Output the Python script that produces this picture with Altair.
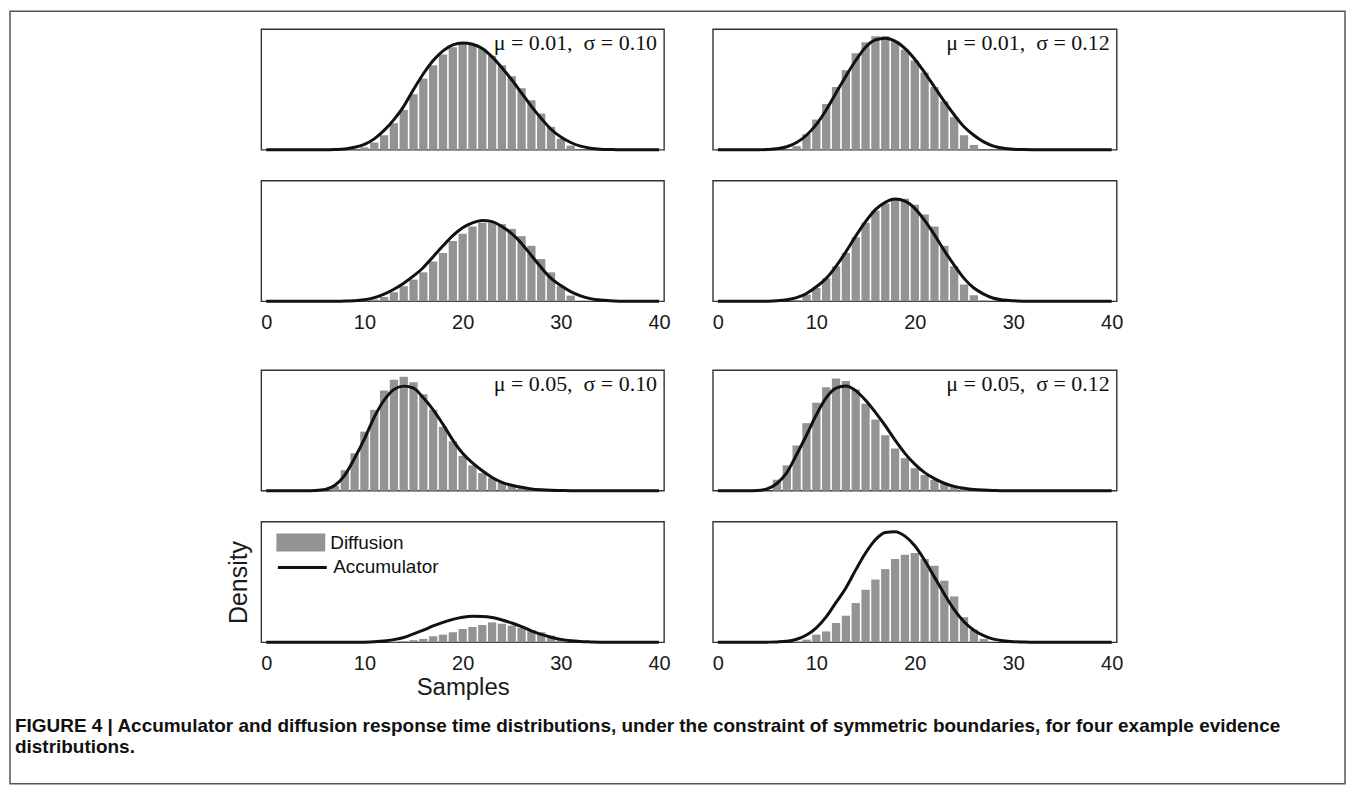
import altair as alt
import pandas as pd

# ---------------- data ----------------
SAMPLES = list(range(41))          # x positions of the accumulator curves
X_TICKS = [0, 10, 20, 30, 40]

LABELS = [
    "μ = 0.01,\u2002σ = 0.10",
    "μ = 0.01,\u2002σ = 0.12",
    "μ = 0.05,\u2002σ = 0.10",
    "μ = 0.05,\u2002σ = 0.12",
]

# accumulator (black curve) densities, relative units, samples 0..40
ACC_1 = [0, 0, 0, 0, 0, 0, 0, 0.002, 0.006, 0.02, 0.045, 0.09, 0.16, 0.25, 0.36, 0.50, 0.63, 0.74, 0.82, 0.87,
         0.885, 0.875, 0.84, 0.77, 0.68, 0.58, 0.47, 0.36, 0.26, 0.17, 0.105, 0.06, 0.03, 0.013, 0.005, 0.002,
         0, 0, 0, 0, 0]
ACC_2 = [0, 0, 0, 0, 0, 0.002, 0.008, 0.025, 0.06, 0.12, 0.21, 0.33, 0.47, 0.61, 0.74, 0.85, 0.91, 0.925, 0.90,
         0.84, 0.75, 0.64, 0.52, 0.40, 0.29, 0.19, 0.12, 0.065, 0.03, 0.012, 0.004, 0.001, 0, 0, 0, 0, 0, 0, 0,
         0, 0]
ACC_3 = [0, 0, 0, 0, 0, 0, 0, 0, 0.002, 0.004, 0.012, 0.03, 0.06, 0.10, 0.15, 0.21, 0.28, 0.37, 0.46, 0.545,
         0.61, 0.65, 0.67, 0.66, 0.62, 0.56, 0.48, 0.38, 0.28, 0.19, 0.13, 0.08, 0.045, 0.022, 0.01, 0.004, 0.001,
         0, 0, 0, 0]
ACC_4 = [0, 0, 0, 0, 0, 0.001, 0.004, 0.012, 0.03, 0.065, 0.12, 0.19, 0.29, 0.41, 0.54, 0.66, 0.76, 0.82, 0.847,
         0.83, 0.77, 0.67, 0.55, 0.42, 0.30, 0.19, 0.11, 0.06, 0.025, 0.01, 0.004, 0.001, 0, 0, 0, 0, 0, 0, 0,
         0, 0]
ACC_5 = [0, 0, 0, 0, 0, 0.002, 0.01, 0.045, 0.13, 0.27, 0.43, 0.61, 0.75, 0.84, 0.867, 0.85, 0.77, 0.67, 0.55,
         0.42, 0.31, 0.23, 0.165, 0.11, 0.07, 0.045, 0.028, 0.015, 0.008, 0.004, 0.002, 0, 0, 0, 0, 0, 0, 0, 0,
         0, 0]
ACC_6 = [0, 0, 0, 0, 0.002, 0.015, 0.06, 0.15, 0.30, 0.46, 0.63, 0.77, 0.85, 0.868, 0.83, 0.75, 0.65, 0.54, 0.42,
         0.31, 0.22, 0.15, 0.10, 0.062, 0.036, 0.02, 0.01, 0.005, 0.002, 0, 0, 0, 0, 0, 0, 0, 0, 0, 0, 0, 0]
ACC_7 = [0, 0, 0, 0, 0, 0, 0, 0, 0, 0, 0.001, 0.004, 0.01, 0.022, 0.04, 0.07, 0.10, 0.135, 0.165, 0.19, 0.207,
         0.215, 0.214, 0.205, 0.185, 0.16, 0.13, 0.095, 0.065, 0.042, 0.024, 0.012, 0.006, 0.003, 0.001, 0, 0, 0,
         0, 0, 0]
ACC_8 = [0, 0, 0, 0, 0, 0.001, 0.003, 0.008, 0.025, 0.06, 0.12, 0.21, 0.33, 0.45, 0.60, 0.74, 0.85, 0.91, 0.917,
         0.88, 0.80, 0.68, 0.54, 0.40, 0.27, 0.17, 0.10, 0.055, 0.026, 0.012, 0.005, 0.002, 0, 0, 0, 0, 0, 0, 0,
         0, 0]

# diffusion histogram bins (bin centres) and heights
BIN_1 = list(range(10, 32))
DIF_1 = [0.02, 0.06, 0.12, 0.22, 0.33, 0.46, 0.59, 0.70, 0.79, 0.85, 0.88, 0.87, 0.84, 0.78, 0.70, 0.61, 0.51,
         0.41, 0.30, 0.19, 0.09, 0.035]
BIN_2 = list(range(8, 27))
DIF_2 = [0.03, 0.13, 0.25, 0.38, 0.52, 0.66, 0.80, 0.89, 0.94, 0.94, 0.90, 0.83, 0.74, 0.64, 0.52, 0.40, 0.27,
         0.12, 0.04]
BIN_3 = list(range(10, 32))
DIF_3 = [0.004, 0.015, 0.036, 0.075, 0.125, 0.18, 0.24, 0.33, 0.40, 0.50, 0.56, 0.62, 0.65, 0.65, 0.64, 0.60,
         0.54, 0.46, 0.35, 0.24, 0.125, 0.047]
BIN_4 = list(range(8, 28))
DIF_4 = [0.01, 0.055, 0.11, 0.19, 0.29, 0.40, 0.53, 0.65, 0.75, 0.81, 0.85, 0.85, 0.80, 0.72, 0.62, 0.46, 0.29,
         0.14, 0.05, 0.008]
BIN_5 = list(range(7, 28))
DIF_5 = [0.04, 0.17, 0.31, 0.49, 0.67, 0.83, 0.92, 0.945, 0.90, 0.80, 0.67, 0.53, 0.41, 0.29, 0.21, 0.146, 0.105,
         0.07, 0.044, 0.022, 0.01]
BIN_6 = list(range(6, 26))
DIF_6 = [0.09, 0.21, 0.375, 0.56, 0.73, 0.857, 0.93, 0.91, 0.84, 0.72, 0.59, 0.46, 0.35, 0.27, 0.187, 0.13, 0.09,
         0.063, 0.04, 0.02]
BIN_7 = list(range(13, 31))
DIF_7 = [0.003, 0.008, 0.017, 0.028, 0.05, 0.063, 0.083, 0.11, 0.127, 0.143, 0.165, 0.154, 0.138, 0.118, 0.10,
         0.083, 0.055, 0.02]
BIN_8 = list(range(8, 28))
DIF_8 = [0.005, 0.022, 0.063, 0.09, 0.16, 0.22, 0.325, 0.435, 0.52, 0.606, 0.69, 0.725, 0.74, 0.69, 0.634, 0.51,
         0.38, 0.207, 0.105, 0.028]

SERIES = ["Diffusion", "Accumulator"]
CAPTION = ("FIGURE 4 | Accumulator and diffusion response time distributions, under the constraint of "
           "symmetric boundaries, for four example evidence\ndistributions.")

for a in [ACC_1, ACC_2, ACC_3, ACC_4, ACC_5, ACC_6, ACC_7, ACC_8]:
    assert len(a) == len(SAMPLES)
for b, d in [(BIN_1, DIF_1), (BIN_2, DIF_2), (BIN_3, DIF_3), (BIN_4, DIF_4),
             (BIN_5, DIF_5), (BIN_6, DIF_6), (BIN_7, DIF_7), (BIN_8, DIF_8)]:
    assert len(b) == len(d)

# ---------------- styling ----------------
BAR_COLOR = "#939393"
LINE_COLOR = "#111111"
SANS = "Liberation Sans"
SERIF = "Liberation Serif"
W_L, W_R, H = 404, 405, 121
ROW_GAP = 31


def panel(acc, bins, dif, width, label=None, xaxis=False, xtitle=None, ytitle=None, legend=False):
    cdf = pd.DataFrame({"samples": SAMPLES, "density": acc, "model": SERIES[1]})
    bdf = pd.DataFrame({"samples": bins, "density": dif, "model": SERIES[0]})
    xscale = alt.Scale(domain=[0, 40], nice=False, zero=False)
    yscale = alt.Scale(domain=[0, 1], nice=False)
    if xaxis:
        ax = alt.Axis(values=X_TICKS, labelFlush=False, ticks=False, domain=False, grid=False,
                      labelFont=SANS, labelFontSize=20, labelColor="#1a1a1a", labelPadding=11,
                      titleFont=SANS, titleFontSize=24, titleFontWeight="normal", titleColor="#1a1a1a",
                      titlePadding=2)
        xenc = alt.X("samples:Q", scale=xscale, axis=ax, title=xtitle)
    else:
        xenc = alt.X("samples:Q", scale=xscale, axis=None)
    if ytitle:
        yax = alt.Axis(labels=False, ticks=False, domain=False, grid=False, titleFont=SANS,
                       titleFontSize=25, titleFontWeight="normal", titleColor="#1a1a1a", titlePadding=10)
        yenc = alt.Y("density:Q", scale=yscale, axis=yax, title=ytitle)
    else:
        yenc = alt.Y("density:Q", scale=yscale, axis=None)

    if legend:
        bars = alt.Chart(bdf).mark_bar(size=8.3).encode(
            x=xenc, y=yenc,
            fill=alt.Fill("model:N", scale=alt.Scale(domain=[SERIES[0]], range=[BAR_COLOR]),
                          legend=alt.Legend(orient="none", legendX=15.2, legendY=-3.5, title=None,
                                            symbolType="M-1,-0.367H1V0.367H-1Z", symbolSize=2401,
                                            symbolStrokeWidth=0, symbolOpacity=1, labelFont=SANS,
                                            labelFontSize=19, labelColor="#111", labelOffset=5,
                                            padding=0)))
        line = alt.Chart(cdf).mark_line(strokeWidth=3, interpolate="monotone").encode(
            x=xenc, y=yenc,
            stroke=alt.Stroke("model:N", scale=alt.Scale(domain=[SERIES[1]], range=[LINE_COLOR]),
                              legend=alt.Legend(orient="none", legendX=15.2, legendY=20, title=None,
                                                symbolType="stroke", symbolSize=2401,
                                                symbolStrokeWidth=3, labelFont=SANS, labelFontSize=19,
                                                labelColor="#111", labelOffset=5, padding=0)))
    else:
        bars = alt.Chart(bdf).mark_bar(size=8.3, color=BAR_COLOR).encode(x=xenc, y=yenc)
        line = alt.Chart(cdf).mark_line(color=LINE_COLOR, strokeWidth=3, interpolate="monotone").encode(
            x=xenc, y=yenc)
    layers = [bars, line]
    if label:
        txt = alt.Chart(pd.DataFrame({"label": [label]})).mark_text(
            align="right", baseline="alphabetic", font=SERIF, fontSize=22, color="#111").encode(
            text="label:N", x=alt.value(width - 7), y=alt.value(21.3))
        layers.append(txt)
    return alt.layer(*layers).properties(width=width, height=H)


p1 = panel(ACC_1, BIN_1, DIF_1, W_L, label=LABELS[0])
p2 = panel(ACC_2, BIN_2, DIF_2, W_R, label=LABELS[1])
p3 = panel(ACC_3, BIN_3, DIF_3, W_L, xaxis=True)
p4 = panel(ACC_4, BIN_4, DIF_4, W_R, xaxis=True)
p5 = panel(ACC_5, BIN_5, DIF_5, W_L, label=LABELS[2])
p6 = panel(ACC_6, BIN_6, DIF_6, W_R, label=LABELS[3])
p7 = panel(ACC_7, BIN_7, DIF_7, W_L, xaxis=True, xtitle="Samples", ytitle="Density", legend=True)
p8 = panel(ACC_8, BIN_8, DIF_8, W_R, xaxis=True)

NOSTROKE = alt.ViewBackground(stroke="transparent")
empty_df = pd.DataFrame({"s": [""]})


def spacer():
    # an empty cell that only adds vertical space between the two groups of panels
    return alt.Chart(empty_df).mark_text().encode(
        text="s:N", x=alt.value(0), y=alt.value(0)).properties(width=1, height=7, view=NOSTROKE)


# caption + outer frame (drawn from the caption cell, placed at x=260, y=672 on the page)
cap_df = pd.DataFrame({"caption": [CAPTION]})
frame = alt.Chart(cap_df).mark_rect(fill="transparent", stroke="#555", strokeWidth=1.5).encode(
    x=alt.value(-252), x2=alt.value(1087), y=alt.value(-664), y2=alt.value(111))
cap = alt.Chart(cap_df).mark_text(align="left", baseline="alphabetic", font=SANS, fontSize=19,
                                  fontWeight="bold", lineBreak="\n", lineHeight=21, color="#111").encode(
    text="caption:N", x=alt.value(-247), y=alt.value(58.7))
caption = alt.layer(frame, cap).properties(width=1, height=111, view=NOSTROKE)

chart = alt.concat(
    p1, p2, p3, p4, spacer(), spacer(), p5, p6, p7, p8, caption,
    columns=2, bounds="flush", align="each", spacing={"row": ROW_GAP, "column": 49},
).resolve_scale(fill="independent", stroke="independent").resolve_legend(
    fill="independent", stroke="independent"
).properties(padding=0, background="white").configure_view(stroke="#333", strokeWidth=1.4)

chart.save("out.html", embed_options={"renderer": "svg", "actions": False})
